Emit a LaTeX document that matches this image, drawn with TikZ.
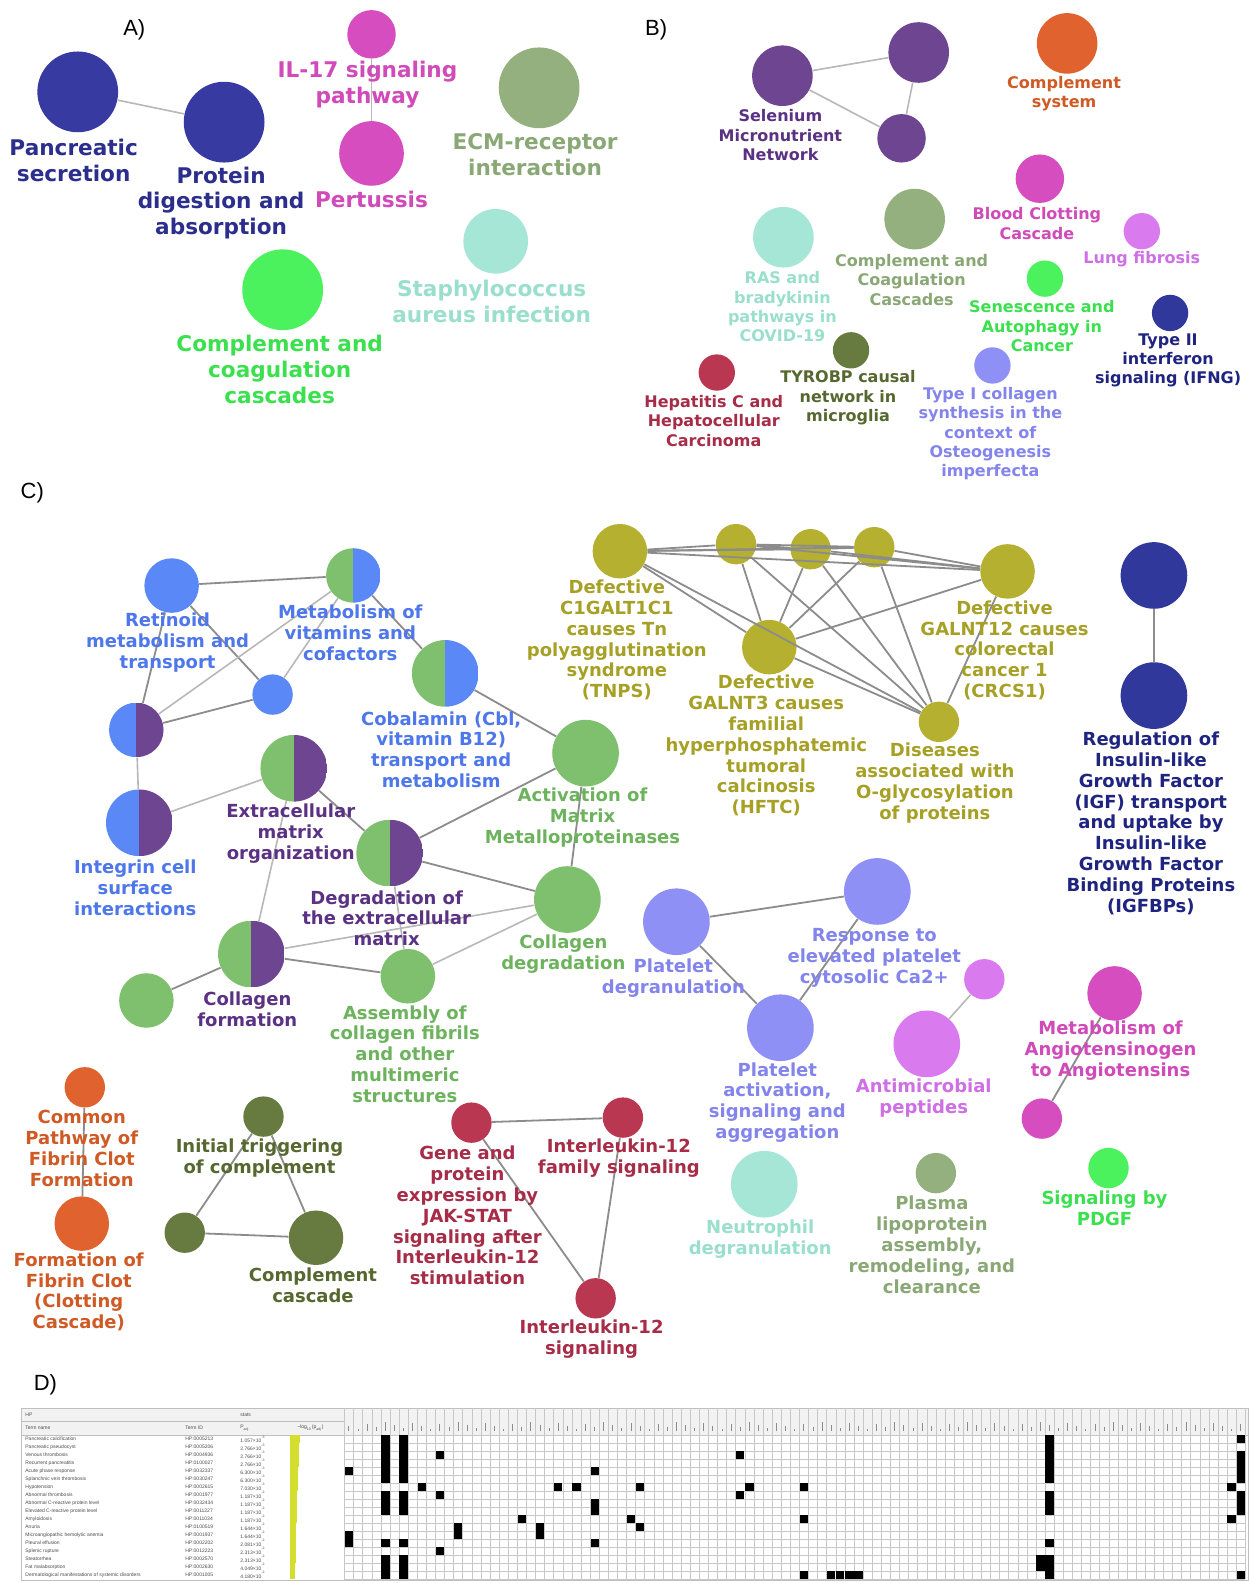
\documentclass[tikz,border=0pt]{standalone}
\usepackage{fontspec}
\setmainfont{DejaVu Sans}
\newfontfamily\panelf{Liberation Sans}
\newfontfamily\tabf{Liberation Sans}
\definecolor{nDB}{HTML}{373AA0}\definecolor{tDB}{HTML}{2B2E8C}
\definecolor{nMG}{HTML}{D64DBF}\definecolor{tMG}{HTML}{D04ABA}
\definecolor{nSG}{HTML}{93B07E}\definecolor{tSG}{HTML}{8AA876}
\definecolor{nAQ}{HTML}{A5E6D6}\definecolor{tAQ}{HTML}{9ADFCC}
\definecolor{nLG}{HTML}{4CF25E}\definecolor{tLG}{HTML}{3BE04E}
\definecolor{nPU}{HTML}{6E4591}\definecolor{tPU}{HTML}{5B3283}
\definecolor{nOR}{HTML}{E0622E}\definecolor{tOR}{HTML}{D05A25}
\definecolor{nVI}{HTML}{D97BEF}\definecolor{tVI}{HTML}{CE6FE5}
\definecolor{nOG}{HTML}{677A40}\definecolor{tOG}{HTML}{56682F}
\definecolor{nCR}{HTML}{BA3752}\definecolor{tCR}{HTML}{A62C47}
\definecolor{nPW}{HTML}{8E90F5}\definecolor{tPW}{HTML}{8385EC}
\definecolor{nBL}{HTML}{5B88F7}\definecolor{tBL}{HTML}{4D77EA}
\definecolor{nGR}{HTML}{7EC06E}\definecolor{tGR}{HTML}{6DB35D}
\definecolor{nYO}{HTML}{B5B02F}\definecolor{tYO}{HTML}{A6A126}
\definecolor{nIG}{HTML}{30389C}\definecolor{tIG}{HTML}{1E2480}
\definecolor{barY}{HTML}{D4DE2C}
\tikzset{
  nd/.style 2 args={circle,inner sep=0pt,minimum size={2*#2*0.50485pt},fill=#1},
  hv/.style n args={3}{circle,inner sep=0pt,minimum size={2*#3*0.50485pt},
    path picture={\fill[#1] (path picture bounding box.south west) rectangle (path picture bounding box.north);
      \fill[#2] (path picture bounding box.north) rectangle (path picture bounding box.south east);}},
  ed/.style={draw=black!45,line width=0.9pt},
  led/.style={draw=black!28,line width=0.8pt},
  lA/.style={align=center,inner sep=0pt,text=#1,font=\fontsize{10.8}{12.9}\selectfont\bfseries},
  lB/.style={align=center,inner sep=0pt,text=#1,font=\fontsize{8}{9.7}\selectfont\bfseries},
  lC/.style={align=center,inner sep=0pt,text=#1,font=\fontsize{9}{10.4}\selectfont\bfseries},
  pl/.style={inner sep=0pt,font=\panelf\fontsize{11}{13}\selectfont},
  tb/.style={inner sep=0pt,text=black!70,font=\tabf\fontsize{2.5}{3}\selectfont}
}
\begin{document}
\begin{tikzpicture}[x=0.50485pt,y=-0.50485pt]
\fill[white] (0,0) rectangle (1237,1568);
\useasboundingbox (0,0) rectangle (1237,1568);

% ---------- panel letters
\node[pl] (pA) at (133,30) {A)};
\node[pl] (pB) at (650,30) {B)};
\node[pl] (pC) at (32,488) {C)};
\node[pl] (pD) at (45,1372) {D)};

% ---------- Panel A
\node[nd={nDB}{40}] (pan) at (77,91) {};
\node[nd={nDB}{40}] (pro) at (222,121) {};
\node[nd={nMG}{24}] (il17) at (368,34) {};
\node[nd={nMG}{32}] (per) at (368,152) {};
\node[nd={nSG}{40}] (ecm) at (534,87) {};
\node[nd={nAQ}{32}] (sta) at (491,239) {};
\node[nd={nLG}{40}] (cca) at (280,287) {};
\draw[led] (pan) -- (pro);
\draw[led] (il17) -- (per);
\node[lA=tDB] (lpan) at (73,159) {Pancreatic\\secretion};
\node[lA=tDB] (lpro) at (219,201) {Protein\\digestion and\\absorption};
\node[lA=tMG] (lil) at (364,83.5) {IL-17 signaling\\pathway};
\node[lA=tMG] (lper) at (368,198) {Pertussis};
\node[lA=tSG] (lecm) at (530,153.5) {ECM-receptor\\interaction};
\node[lA=tAQ] (lsta) at (487,298.5) {Staphylococcus\\aureus infection};
\node[lA=tLG] (lcca) at (277,366) {Complement and\\coagulation\\cascades};

% ---------- Panel B
\node[nd={nPU}{30}] (se1) at (775,75) {};
\node[nd={nPU}{30}] (se2) at (910,52) {};
\node[nd={nPU}{24}] (se3) at (893,137) {};
\node[nd={nOR}{30}] (csy) at (1057,43) {};
\node[nd={nMG}{24}] (bcc) at (1030,177) {};
\node[nd={nVI}{18}] (lun) at (1131,229) {};
\node[nd={nSG}{30}] (ccb) at (906,217) {};
\node[nd={nAQ}{30}] (ras) at (776,235) {};
\node[nd={nLG}{18}] (sen) at (1035,276) {};
\node[nd={nIG}{18}] (ifn) at (1159,310) {};
\node[nd={nOG}{18}] (tyr) at (843,347) {};
\node[nd={nCR}{18}] (hep) at (710,369) {};
\node[nd={nPW}{18}] (col1) at (983,362) {};
\draw[led] (se1) -- (se2);
\draw[led] (se1) -- (se3);
\draw[led] (se2) -- (se3);
\node[lB=tPU] (lse) at (773,134) {Selenium\\Micronutrient\\Network};
\node[lB=tOR] (lcsy) at (1054,92.5) {Complement\\system};
\node[lB=tMG] (lbcc) at (1027,221.5) {Blood Clotting\\Cascade};
\node[lB=tVI] (llun) at (1131,257) {Lung fibrosis};
\node[lB=tSG] (lccb) at (903,277) {Complement and\\Coagulation\\Cascades};
\node[lB=tAQ] (lras) at (775,304) {RAS and\\bradykinin\\pathways in\\COVID-19};
\node[lB=tLG] (lsen) at (1032,323) {Senescence and\\Autophagy in\\Cancer};
\node[lB=tIG] (lifn) at (1157,357) {Type II\\interferon\\signaling (IFNG)};
\node[lB=tOG] (ltyr) at (840,394) {TYROBP causal\\network in\\microglia};
\node[lB=tCR] (lhep) at (707,417) {Hepatitis C and\\Hepatocellular\\Carcinoma};
\node[lB=tPW] (lcol1) at (981,429.5) {Type I collagen\\synthesis in the\\context of\\Osteogenesis\\imperfecta};

% ---------- Panel C : blue / green / purple cluster
\node[nd={nBL}{27}] (ret) at (170,580) {};
\node[hv={nGR}{nBL}{27}] (mv) at (350,570) {};
\node[nd={nBL}{20}] (smb) at (270,688) {};
\node[hv={nBL}{nPU}{27}] (bp1) at (135,723) {};
\node[hv={nGR}{nBL}{33}] (cob) at (441,667) {};
\node[hv={nBL}{nPU}{33}] (int) at (138,815) {};
\node[hv={nGR}{nPU}{33}] (ecmo) at (291,761) {};
\node[hv={nGR}{nPU}{33}] (deg) at (386,845) {};
\node[nd={nGR}{33}] (mmp) at (580,746) {};
\node[nd={nGR}{33}] (cold) at (562,891) {};
\node[hv={nGR}{nPU}{33}] (colf) at (249,945) {};
\node[nd={nGR}{27}] (smg) at (145,991) {};
\node[nd={nGR}{27}] (asm) at (404,967) {};
\draw[ed] (ret) -- (mv);
\draw[ed] (ret) -- (smb);
\draw[ed] (ret) -- (bp1);
\draw[led] (mv) -- (bp1);
\draw[led] (mv) -- (smb);
\draw[ed] (mv) -- (cob);
\draw[ed] (smb) -- (bp1);
\draw[led] (bp1) -- (int);
\draw[led] (int) -- (ecmo);
\draw[ed] (ecmo) -- (deg);
\draw[led] (ecmo) -- (colf);
\draw[ed] (cob) -- (mmp);
\draw[ed] (deg) -- (mmp);
\draw[ed] (deg) -- (cold);
\draw[led] (deg) -- (asm);
\draw[ed] (mmp) -- (cold);
\draw[led] (colf) -- (cold);
\draw[ed] (colf) -- (asm);
\draw[ed] (colf) -- (smg);
\draw[led] (asm) -- (cold);
\node[lC=tBL] (lret) at (166,636.5) {Retinoid\\metabolism and\\transport};
\node[lC=tBL] (lmv) at (347,626.5) {Metabolism of\\vitamins and\\cofactors};
\node[lC=tBL] (lcob) at (437,742.5) {Cobalamin (Cbl,\\vitamin B12)\\transport and\\metabolism};
\node[lC=tBL] (lint) at (134,879.5) {Integrin cell\\surface\\interactions};
\node[lC=tPU] (lecmo) at (288,825.5) {Extracellular\\matrix\\organization};
\node[lC=tPU] (ldeg) at (383,909.5) {Degradation of\\the extracellular\\matrix};
\node[lC=tGR] (lmmp) at (577,810) {Activation of\\Matrix\\Metalloproteinases};
\node[lC=tGR] (lcold) at (558,945) {Collagen\\degradation};
\node[lC=tPU] (lcolf) at (245,1000) {Collagen\\formation};
\node[lC=tGR] (lasm) at (401,1044) {Assembly of\\collagen fibrils\\and other\\multimeric\\structures};

% ---------- Panel C : O-glycosylation cluster
\node[nd={nYO}{27}] (yT) at (614,546) {};
\node[nd={nYO}{20}] (y2) at (729,539) {};
\node[nd={nYO}{20}] (y3) at (803,544) {};
\node[nd={nYO}{20}] (y4) at (866,542) {};
\node[nd={nYO}{27}] (yC) at (998,566) {};
\node[nd={nYO}{27}] (yH) at (762,641) {};
\node[nd={nYO}{20}] (yD) at (930,715) {};
\foreach \a/\b in {yT/y2,yT/y3,yT/y4,yT/yC,yT/yH,yT/yD,y2/y3,y2/y4,y2/yC,y2/yH,y2/yD,
  y3/y4,y3/yC,y3/yH,y3/yD,y4/yC,y4/yH,y4/yD,yC/yH,yC/yD,yH/yD}
  \draw[ed] (\a) -- (\b);
\node[lC=tYO] (lyT) at (611,634) {Defective\\C1GALT1C1\\causes Tn\\polyagglutination\\syndrome\\(TNPS)};
\node[lC=tYO] (lyH) at (759,738.5) {Defective\\GALNT3 causes\\familial\\hyperphosphatemic\\tumoral\\calcinosis\\(HFTC)};
\node[lC=tYO] (lyC) at (995,644) {Defective\\GALNT12 causes\\colorectal\\cancer 1\\(CRCS1)};
\node[lC=tYO] (lyD) at (926,775.5) {Diseases\\associated with\\O-glycosylation\\of proteins};

% ---------- IGF
\node[nd={nIG}{33}] (ig1) at (1143,570) {};
\node[nd={nIG}{33}] (ig2) at (1143,689) {};
\draw[ed] (ig1) -- (ig2);
\node[lC=tIG] (lig) at (1140,815.5) {Regulation of\\Insulin-like\\Growth Factor\\(IGF) transport\\and uptake by\\Insulin-like\\Growth Factor\\Binding Proteins\\(IGFBPs)};

% ---------- Platelets
\node[nd={nPW}{33}] (pd) at (670,913) {};
\node[nd={nPW}{33}] (re) at (869,883) {};
\node[nd={nPW}{33}] (pa) at (773,1018) {};
\draw[ed] (pd) -- (re);
\draw[ed] (pd) -- (pa);
\draw[ed] (re) -- (pa);
\node[lC=tPW] (lpd) at (667,968.5) {Platelet\\degranulation};
\node[lC=tPW] (lre) at (866,948.5) {Response to\\elevated platelet\\cytosolic Ca2+};
\node[lC=tPW] (lpa) at (770,1092) {Platelet\\activation,\\signaling and\\aggregation};

% ---------- Antimicrobial / Angiotensin / singles
\node[nd={nVI}{20}] (am1) at (975,970) {};
\node[nd={nVI}{33}] (am2) at (918,1034) {};
\draw[led] (am1) -- (am2);
\node[lC=tVI] (lam) at (915,1088) {Antimicrobial\\peptides};
\node[nd={nMG}{27}] (an1) at (1104,984) {};
\node[nd={nMG}{20}] (an2) at (1032,1108) {};
\draw[ed] (an1) -- (an2);
\node[lC=tMG] (lan) at (1100,1040.5) {Metabolism of\\Angiotensinogen\\to Angiotensins};
\node[nd={nAQ}{33}] (neu) at (757,1173) {};
\node[lC=tAQ] (lneu) at (753,1227) {Neutrophil\\degranulation};
\node[nd={nSG}{20}] (pls) at (927,1162) {};
\node[lC=tSG] (lpls) at (923,1233) {Plasma\\lipoprotein\\assembly,\\remodeling, and\\clearance};
\node[nd={nLG}{20}] (pdg) at (1098,1157) {};
\node[lC=tLG] (lpdg) at (1094,1197) {Signaling by\\PDGF};

% ---------- Fibrin
\node[nd={nOR}{20}] (fb1) at (84,1077) {};
\node[nd={nOR}{27}] (fb2) at (81,1212) {};
\draw[ed] (fb1) -- (fb2);
\node[lC=tOR] (lfb1) at (81,1137.5) {Common\\Pathway of\\Fibrin Clot\\Formation};
\node[lC=tOR] (lfb2) at (78,1279.5) {Formation of\\Fibrin Clot\\(Clotting\\Cascade)};

% ---------- Complement
\node[nd={nOG}{20}] (cp1) at (261,1106) {};
\node[nd={nOG}{20}] (cp2) at (183,1221) {};
\node[nd={nOG}{27}] (cp3) at (313,1226) {};
\draw[ed] (cp1) -- (cp2);
\draw[ed] (cp1) -- (cp3);
\draw[ed] (cp2) -- (cp3);
\node[lC=tOG] (lcp1) at (257,1147) {Initial triggering\\of complement};
\node[lC=tOG] (lcp3) at (310,1273) {Complement\\cascade};

% ---------- IL-12
\node[nd={nCR}{20}] (i1) at (467,1112) {};
\node[nd={nCR}{20}] (i2) at (617,1107) {};
\node[nd={nCR}{20}] (i3) at (590,1286) {};
\draw[ed] (i1) -- (i2);
\draw[ed] (i1) -- (i3);
\draw[ed] (i2) -- (i3);
\node[lC=tCR] (li1) at (463,1204) {Gene and\\protein\\expression by\\JAK-STAT\\signaling after\\Interleukin-12\\stimulation};
\node[lC=tCR] (li2) at (613,1147.5) {Interleukin-12\\family signaling};
\node[lC=tCR] (li3) at (586,1326.5) {Interleukin-12\\signaling};

% ---------- Panel D (full-size pixel coordinates)
\begin{scope}[x=0.5pt,y=-0.5pt]
\fill[black!5] (21,1408) rectangle (1249,1435);
\draw[black!25,line width=0.3pt] (21,1408) rectangle (1248.5,1580);
\draw[black!25,line width=0.3pt] (21,1421.5) -- (344.5,1421.5);
\draw[black!25,line width=0.3pt] (21,1435) -- (1248.5,1435);
\foreach \k in {0,...,99}
  \draw[black!22,line width=0.25pt] ({344.5+9.1*\k},1408) -- ({344.5+9.1*\k},1579);
\foreach \r in {0,...,18}
  \draw[black!22,line width=0.25pt] (344.5,{1435+8*\r}) -- (1245.4,{1435+8*\r});
\foreach \j in {0,...,98}{
  \pgfmathsetmacro\len{2+mod(\j*37+11,8)}
  \draw[black!45,line width=0.5pt] ({349+9.1*\j},1431) -- ++(0,-\len);}
\foreach \j/\rows in {0/{4,12,13},4/{0,1,2,3,4,5,7,8,9,13,15,16,17},6/{0,1,2,3,4,5,7,8,9,13,15,16,17},
  8/{6},10/{2,7,14},12/{11,12},19/{10},21/{11,12},23/{6},25/{6},27/{4,8,9,13},31/{10},32/{6,11},
  43/{2,7},44/{6},50/{6,10,17},53/{17},54/{17},55/{17},56/{17},76/{15,16},
  77/{0,1,2,3,4,5,7,8,9,13,15,16,17},97/{6,10},98/{0,2,3,4,5,7,8,9,17}}{
  \foreach \r in \rows
    \fill[black] ({344.5+9.1*\j+0.4},{1435+8*\r+0.3}) rectangle ++(8.3,7.4);}
\node[tb,anchor=west] (hHP) at (25,1415) {HP};
\node[tb,anchor=west] (hst) at (240,1415) {stats};
\node[tb,anchor=west] (hTN) at (25,1428) {Term name};
\node[tb,anchor=west] (hTI) at (185,1428) {Term ID};
\node[tb,anchor=west] (hPA) at (240,1428) {P\textsubscript{adj}};
\node[tb,anchor=west] (hLG) at (297,1428) {−log\textsubscript{10}(p\textsubscript{adj})};
\foreach \nm/\id/\pv/\ex/\w [count=\i from 0] in {
  Pancreatic calcification/HP:0005213/1.057/-3/10,
  Pancreatic pseudocyst/HP:0005206/2.766/-3/9,
  Venous thrombosis/HP:0004936/2.766/-3/9,
  Recurrent pancreatitis/HP:0100027/2.766/-3/9,
  Acute phase response/HP:0032337/6.300/-3/8,
  Splanchnic vein thrombosis/HP:0030247/6.300/-3/8,
  Hypotension/HP:0002615/7.030/-3/8,
  Abnormal thrombosis/HP:0001977/1.187/-2/7,
  Abnormal C-reactive protein level/HP:0032434/1.187/-2/7,
  Elevated C-reactive protein level/HP:0011227/1.187/-2/7,
  Amyloidosis/HP:0011034/1.187/-2/7,
  Anuria/HP:0100519/1.644/-2/6.5,
  Microangiopathic hemolytic anemia/HP:0001937/1.644/-2/6.5,
  Pleural effusion/HP:0002202/2.081/-2/6,
  Splenic rupture/HP:0012223/2.313/-2/6,
  Steatorrhea/HP:0002570/2.313/-2/6,
  Fat malabsorption/HP:0002630/4.049/-2/5,
  Dermatological manifestations of systemic disorders/HP:0001005/4.180/-2/5}{
  \node[tb,anchor=west] (tn\i) at (25,{1439+8*\i}) {\nm};
  \node[tb,anchor=west] (ti\i) at (185,{1439+8*\i}) {\id};
  \node[tb,anchor=west] (tp\i) at (240,{1439+8*\i}) {\pv×10\textsuperscript{\ex}};
  \fill[barY] (290,{1435.5+8*\i}) rectangle ++(\w,7.5);}
\end{scope}
\end{tikzpicture}
\end{document}
